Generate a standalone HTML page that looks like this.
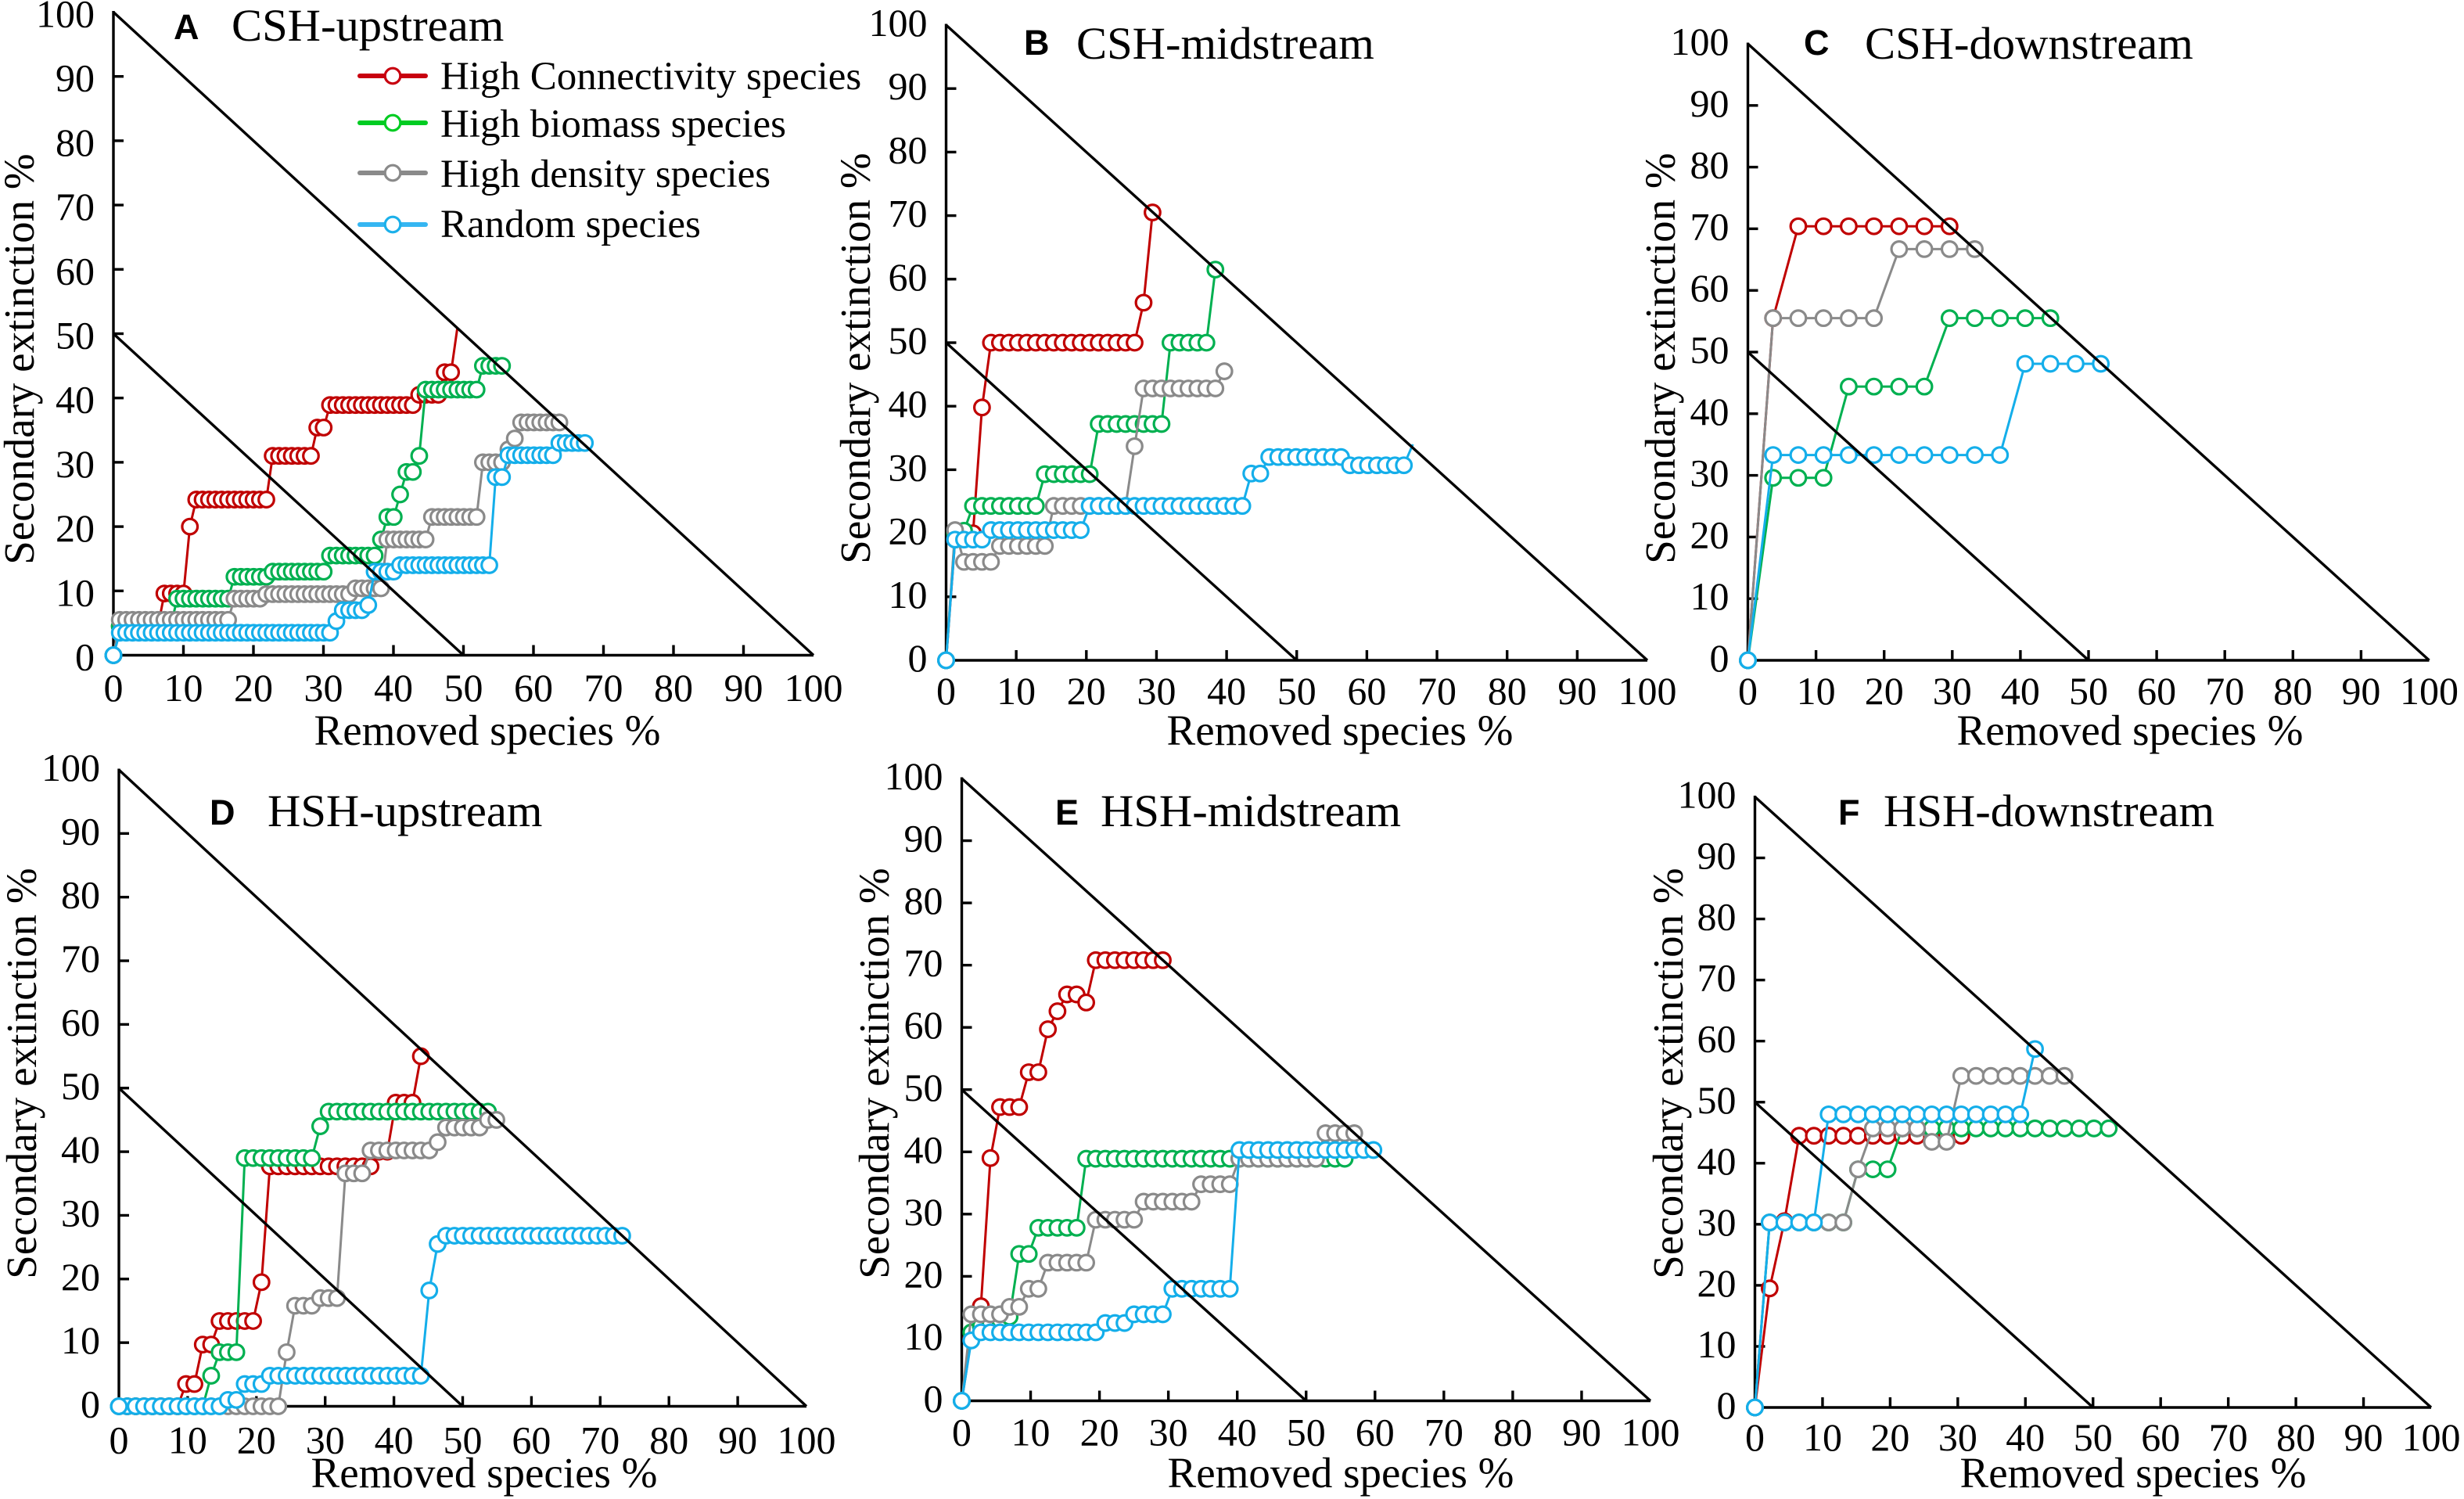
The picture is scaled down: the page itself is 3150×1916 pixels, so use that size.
<!DOCTYPE html>
<html lang="en">
<head>
<meta charset="utf-8">
<title>Secondary extinction curves</title>
<style>
html,body{margin:0;padding:0;background:#fff;}
svg{display:block;}
text{font-family:"Liberation Serif",serif;fill:#000;}
.tick{font-size:50px;}
.axt{font-size:55px;}
.ttl{font-size:58.6px;}
.let{font-family:"Liberation Sans",sans-serif;font-weight:bold;font-size:45px;}
.leg{font-size:51px;}
</style>
</head>
<body>
<svg id="fig" xmlns="http://www.w3.org/2000/svg" width="3150" height="1916" viewBox="0 0 3150 1916">
<rect x="0" y="0" width="3150" height="1916" fill="#fff"/>
<g id="plots"></g>

<text class="let" x="222" y="50">A</text>
<text class="ttl" x="296" y="52">CSH-upstream</text>
<text class="let" x="1309" y="70">B</text>
<text class="ttl" x="1376" y="75">CSH-midstream</text>
<text class="let" x="2306" y="70">C</text>
<text class="ttl" x="2384" y="75">CSH-downstream</text>
<text class="let" x="268" y="1054">D</text>
<text class="ttl" x="342" y="1056">HSH-upstream</text>
<text class="let" x="1349" y="1054">E</text>
<text class="ttl" x="1407" y="1056">HSH-midstream</text>
<text class="let" x="2350" y="1054">F</text>
<text class="ttl" x="2408" y="1056">HSH-downstream</text>

<text class="axt" x="623" y="952" text-anchor="middle">Removed species %</text>
<text class="axt" x="1713" y="952" text-anchor="middle">Removed species %</text>
<text class="axt" x="2723" y="952" text-anchor="middle">Removed species %</text>
<text class="axt" x="619" y="1901" text-anchor="middle">Removed species %</text>
<text class="axt" x="1714" y="1901" text-anchor="middle">Removed species %</text>
<text class="axt" x="2727" y="1901" text-anchor="middle">Removed species %</text>

<text class="axt" transform="translate(43 459) rotate(-90)" text-anchor="middle">Secondary extinction %</text>
<text class="axt" transform="translate(1112 458) rotate(-90)" text-anchor="middle">Secondary extinction %</text>
<text class="axt" transform="translate(2141 458) rotate(-90)" text-anchor="middle">Secondary extinction %</text>
<text class="axt" transform="translate(46 1372) rotate(-90)" text-anchor="middle">Secondary extinction %</text>
<text class="axt" transform="translate(1136 1372) rotate(-90)" text-anchor="middle">Secondary extinction %</text>
<text class="axt" transform="translate(2151 1372) rotate(-90)" text-anchor="middle">Secondary extinction %</text>

<g>
<g>
<line x1="460" y1="97" x2="544" y2="97" stroke="#c8000f" stroke-width="6" stroke-linecap="round"/>
<circle cx="502" cy="97" r="9.8" fill="#fff" stroke="#c8000f" stroke-width="3.2"/>
<text class="leg" x="563" y="114">High Connectivity species</text>
</g>
<g>
<line x1="460" y1="157" x2="544" y2="157" stroke="#00cc22" stroke-width="6" stroke-linecap="round"/>
<circle cx="502" cy="157" r="9.8" fill="#fff" stroke="#00cc22" stroke-width="3.2"/>
<text class="leg" x="563" y="175">High biomass species</text>
</g>
<g>
<line x1="460" y1="221" x2="544" y2="221" stroke="#8a8a8a" stroke-width="6" stroke-linecap="round"/>
<circle cx="502" cy="221" r="9.8" fill="#fff" stroke="#8a8a8a" stroke-width="3.2"/>
<text class="leg" x="563" y="239">High density species</text>
</g>
<g>
<line x1="460" y1="287" x2="544" y2="287" stroke="#35b6f2" stroke-width="6" stroke-linecap="round"/>
<circle cx="502" cy="287" r="9.8" fill="#fff" stroke="#1cb0ea" stroke-width="3.2"/>
<text class="leg" x="563" y="303">Random species</text>
</g>
</g>
</svg>

<script>
// Axis tick values
const tickLabels = [0, 10, 20, 30, 40, 50, 60, 70, 80, 90, 100];
const outerLimit = [100, 100];
const innerLimit = [50, 50];

// Removed-species increment (%) per removal step, one per panel
const stepA = 0.91, stepB = 1.28, stepC = 3.7, stepD = 1.22, stepE = 1.39, stepF = 2.18;

// Panel A - secondary extinction % after each removal
const aRed = [0, 4.5,4.5,4.5,4.5,4.5,4.5,4.5, 9.6,9.6,9.6,9.6, 20, 24.2,24.2,24.2,24.2,24.2,24.2,24.2,24.2,24.2,24.2,24.2,24.2, 31,31,31,31,31,31,31, 35.4,35.4, 38.9,38.9,38.9,38.9,38.9,38.9,38.9,38.9,38.9,38.9,38.9,38.9,38.9,38.9, 40.5,40.5,40.5,40.5, 44,44, 51];
const aGreen = [0, 4.5,4.5,4.5,4.5,4.5,4.5,4.5,4.5,4.5, 8.8,8.8,8.8,8.8,8.8,8.8,8.8,8.8,8.8, 12.2,12.2,12.2,12.2,12.2,12.2, 13,13,13,13,13,13,13,13,13, 15.5,15.5,15.5,15.5,15.5,15.5,15.5,15.5, 18, 21.5,21.5, 25, 28.5,28.5, 31, 41.3,41.3,41.3,41.3,41.3,41.3,41.3,41.3,41.3, 45,45,45,45];
const aGrey = [0, 5.5,5.5,5.5,5.5,5.5,5.5,5.5,5.5,5.5,5.5,5.5,5.5,5.5,5.5,5.5,5.5,5.5,5.5, 8.8,8.8,8.8,8.8,8.8, 9.5,9.5,9.5,9.5,9.5,9.5,9.5,9.5,9.5,9.5,9.5,9.5,9.5,9.5, 10.4,10.4,10.4,10.4,10.4, 18,18,18,18,18,18,18, 21.5,21.5,21.5,21.5,21.5,21.5,21.5,21.5, 30,30,30,30, 32, 33.7, 36.2,36.2,36.2,36.2,36.2,36.2,36.2];
const aBlue = [0, 3.5,3.5,3.5,3.5,3.5,3.5,3.5,3.5,3.5,3.5,3.5,3.5,3.5,3.5,3.5,3.5,3.5,3.5,3.5,3.5,3.5,3.5,3.5,3.5,3.5,3.5,3.5,3.5,3.5,3.5,3.5,3.5,3.5,3.5, 5.3, 7,7,7,7, 7.8, 13,13,13,13, 14,14,14,14,14,14,14,14,14,14,14,14,14,14,14, 27.7,27.7, 31.1,31.1,31.1,31.1,31.1,31.1,31.1,31.1, 33,33,33,33,33];

// Panel B
const bRed = [0, 19, 20, 20, 39.8, 50,50,50,50,50,50,50,50,50,50,50,50,50,50,50,50,50, 56.3, 70.5];
const bGreen = [0, 20, 20.4, 24.3,24.3,24.3,24.3,24.3,24.3,24.3,24.3, 29.3,29.3,29.3,29.3,29.3,29.3, 37.2,37.2,37.2,37.2,37.2,37.2,37.2,37.2, 50,50,50,50,50, 61.5];
const bGrey = [0, 20.5, 15.5,15.5,15.5,15.5, 18,18,18,18,18,18, 24.3,24.3,24.3,24.3,24.3,24.3,24.3,24.3,24.3, 33.7, 42.8,42.8,42.8,42.8,42.8,42.8,42.8,42.8,42.8, 45.5];
const bBlue = [0, 19,19,19,19, 20.5,20.5,20.5,20.5,20.5,20.5,20.5,20.5,20.5,20.5,20.5, 24.3,24.3,24.3,24.3,24.3,24.3,24.3,24.3,24.3,24.3,24.3,24.3,24.3,24.3,24.3,24.3,24.3,24.3, 29.4,29.4, 32,32,32,32,32,32,32,32,32, 30.7,30.7,30.7,30.7,30.7,30.7,30.7, 34];

// Panel C
const cRed = [0, 55.5, 70.4,70.4,70.4,70.4,70.4,70.4,70.4];
const cGreen = [0, 29.6,29.6,29.6, 44.4,44.4,44.4,44.4, 55.5,55.5,55.5,55.5,55.5];
const cGrey = [0, 55.5,55.5,55.5,55.5,55.5, 66.7,66.7,66.7,66.7];
const cBlue = [0, 33.3,33.3,33.3,33.3,33.3,33.3,33.3,33.3,33.3,33.3, 48.1,48.1,48.1,48.1];

// Panel D
const dRed = [0,0,0,0,0,0,0,0, 3.5,3.5, 9.7,9.7, 13.4,13.4,13.4,13.4,13.4, 19.5, 37.7,37.7,37.7,37.7,37.7,37.7,37.7,37.7,37.7,37.7,37.7,37.7,37.7, 40,40, 47.7,47.7,47.7, 55];
const dGreen = [0,0,0,0,0,0,0,0,0,0,0, 4.8, 8.5,8.5,8.5, 39,39,39,39,39,39,39,39,39, 44, 46.3,46.3,46.3,46.3,46.3,46.3,46.3,46.3,46.3,46.3,46.3,46.3,46.3,46.3,46.3,46.3,46.3,46.3,46.3,46.3];
const dGrey = [0,0,0,0,0,0,0,0,0,0,0,0,0,0,0,0,0,0,0,0, 8.5, 15.8,15.8,15.8, 17,17,17, 36.6,36.6,36.6, 40.2,40.2,40.2,40.2,40.2,40.2,40.2,40.2, 41.5, 43.8,43.8,43.8,43.8,43.8, 45,45];
const dBlue = [0,0,0,0,0,0,0,0,0,0,0,0,0, 1,1, 3.5,3.5,3.5, 4.8,4.8,4.8,4.8,4.8,4.8,4.8,4.8,4.8,4.8,4.8,4.8,4.8,4.8,4.8,4.8,4.8,4.8,4.8, 18.2, 25.5, 26.8,26.8,26.8,26.8,26.8,26.8,26.8,26.8,26.8,26.8,26.8,26.8,26.8,26.8,26.8,26.8,26.8,26.8,26.8,26.8,26.8,26.8];

// Panel E
const eRed = [0, 10, 15.2, 39, 47.2,47.2,47.2, 52.8,52.8, 59.7, 62.6, 65.3,65.3, 64, 70.8,70.8,70.8,70.8,70.8,70.8,70.8,70.8];
const eGreen = [0, 11, 12, 12.5, 13, 13.5, 23.6,23.6, 27.8,27.8,27.8,27.8,27.8, 38.9,38.9,38.9,38.9,38.9,38.9,38.9,38.9,38.9,38.9,38.9,38.9,38.9,38.9,38.9,38.9,38.9,38.9,38.9,38.9,38.9,38.9,38.9,38.9,38.9,38.9,38.9,38.9];
const eGrey = [0, 13.9,13.9,13.9,13.9, 15.1,15.1, 18,18, 22.2,22.2,22.2,22.2,22.2, 29.1,29.1,29.1,29.1,29.1, 32,32,32,32,32,32, 34.8,34.8,34.8,34.8, 38.9,38.9,38.9,38.9,38.9,38.9,38.9,38.9,38.9, 43,43,43,43];
const eBlue = [0, 9.7, 11,11,11,11,11,11,11,11,11,11,11,11,11, 12.5,12.5,12.5, 13.9,13.9,13.9,13.9, 18,18,18,18,18,18,18, 40.3,40.3,40.3,40.3,40.3,40.3,40.3,40.3,40.3,40.3,40.3,40.3,40.3,40.3,40.3];

// Panel F
const fRed = [0, 19.5, 30.5, 44.5,44.5,44.5,44.5,44.5,44.5,44.5,44.5,44.5,44.5,44.5,44.5];
const fGreen = [0, 30.3,30.3,30.3,30.3,30.3,30.3, 39,39,39, 45.7,45.7,45.7,45.7,45.7,45.7,45.7,45.7,45.7,45.7,45.7,45.7,45.7,45.7,45.7];
const fGrey = [0, 30.3,30.3,30.3,30.3,30.3,30.3, 39, 45.7,45.7,45.7,45.7, 43.5,43.5, 54.3,54.3,54.3,54.3,54.3,54.3,54.3,54.3];
const fBlue = [0, 30.3,30.3,30.3,30.3, 48,48,48,48,48,48,48,48,48,48,48,48,48,48, 58.7];

const RED = '#c00000', GREEN = '#00b050', GREY = '#8a8a8a', BLUE = '#14aeea';
const SVGNS = 'http://www.w3.org/2000/svg';

const panels = [
  {id:'a', step:stepA, x0:145, x100:1040, y0:837.5, y100:15.5, tx:58.5, ty:19, series:[[aRed,RED,'high-connectivity',true],[aGreen,GREEN,'high-biomass'],[aGrey,GREY,'high-density'],[aBlue,BLUE,'random']]},
  {id:'b', step:stepB, x0:1209.5, x100:2106, y0:844, y100:32, tx:56, ty:14, series:[[bRed,RED,'high-connectivity'],[bGreen,GREEN,'high-biomass'],[bGrey,GREY,'high-density'],[bBlue,BLUE,'random',true]]},
  {id:'c', step:stepC, x0:2234.5, x100:3105.5, y0:844, y100:56, tx:56, ty:14, series:[[cRed,RED,'high-connectivity'],[cGreen,GREEN,'high-biomass'],[cGrey,GREY,'high-density'],[cBlue,BLUE,'random']]},
  {id:'d', step:stepD, x0:152, x100:1031, y0:1797.5, y100:984, tx:60, ty:14, series:[[dRed,RED,'high-connectivity'],[dGreen,GREEN,'high-biomass'],[dGrey,GREY,'high-density'],[dBlue,BLUE,'random']]},
  {id:'e', step:stepE, x0:1229.5, x100:2110, y0:1790.5, y100:995, tx:57, ty:14, series:[[eRed,RED,'high-connectivity'],[eGreen,GREEN,'high-biomass'],[eGrey,GREY,'high-density'],[eBlue,BLUE,'random']]},
  {id:'f', step:stepF, x0:2243.5, x100:3108, y0:1799, y100:1018.5, tx:55, ty:14, series:[[fRed,RED,'high-connectivity'],[fGreen,GREEN,'high-biomass'],[fGrey,GREY,'high-density'],[fBlue,BLUE,'random']]}
];

function make(tag, parent, attrs) {
  const el = document.createElementNS(SVGNS, tag);
  for (const k in attrs) el.setAttribute(k, attrs[k]);
  parent.appendChild(el);
  return el;
}

const root = document.getElementById('plots');

panels.forEach(function (p) {
  const sx = function (v) { return p.x0 + (p.x100 - p.x0) * v / 100; };
  const sy = function (v) { return p.y0 + (p.y100 - p.y0) * v / 100; };

  const g = make('g', root, {});
  
  

  const axes = make('g', g, {stroke:'#000', 'stroke-width':3.4, fill:'none'});
  
  
  make('line', axes, {x1:sx(0), y1:sy(0), x2:sx(100), y2:sy(0)});
  make('line', axes, {x1:sx(0), y1:sy(100) - 1.5, x2:sx(0), y2:sy(0) + 1.5});

  tickLabels.forEach(function (t) {
    if (t > 0 && t < 100) {
      make('line', axes, {x1:sx(t), y1:sy(0), x2:sx(t), y2:sy(0) - 13});
      make('line', axes, {x1:sx(0), y1:sy(t), x2:sx(0) + 13, y2:sy(t)});
    }
    const xl = make('text', g, {'class':'tick', x:sx(t), y:sy(0) + p.tx, 'text-anchor':'middle'});
    xl.textContent = t;
    
    
    const yl = make('text', g, {'class':'tick', x:sx(0) - 24, y:sy(t) + p.ty, 'text-anchor':'end'});
    yl.textContent = t;
    
    
  });

  p.series.forEach(function (s) {
    const values = s[0], color = s[1], name = s[2], tailLineOnly = s[3];
    const sg = make('g', g, {});
    
    
    const pts = values.map(function (v, i) { return sx(i * p.step) + ',' + sy(v); }).join(' ');
    make('polyline', sg, {points:pts, fill:'none', stroke:color, 'stroke-width':3, 'stroke-linejoin':'round'});
    const n = tailLineOnly ? values.length - 1 : values.length;
    for (let i = 0; i < n; i++) {
      const c = make('circle', sg, {cx:sx(i * p.step), cy:sy(values[i]), r:9.8, fill:'#fff', stroke:color, 'stroke-width':3.2});
      
      
    }
  });

  const o = make('line', g, {x1:sx(0), y1:sy(outerLimit[1]), x2:sx(outerLimit[0]), y2:sy(0), stroke:'#000', 'stroke-width':3.4});
  
  
  const q = make('line', g, {x1:sx(0), y1:sy(innerLimit[1]), x2:sx(innerLimit[0]), y2:sy(0), stroke:'#000', 'stroke-width':3.4});
  
  

  // the first removal marker sits over the axis and diagonals
  const last = p.series[p.series.length - 1];
  const origin = make('circle', g, {cx:sx(0), cy:sy(last[0][0]), r:9.8, fill:'#fff', stroke:last[1], 'stroke-width':3.2});
  
  
});
</script>
</body>
</html>
